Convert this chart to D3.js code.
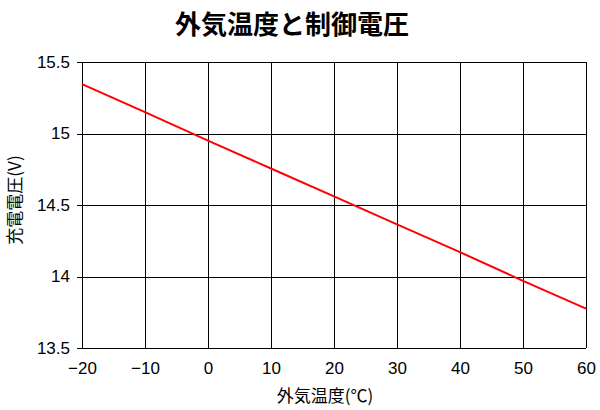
<!DOCTYPE html>
<html><head><meta charset="utf-8">
<script src="https://cdn.jsdelivr.net/npm/d3@7"></script>
<style>body{margin:0;background:#fff}svg{display:block}</style>
</head><body>
<script>
const temps = [-20, -10, 0, 10, 20, 30, 40, 50, 60];
const volts = [15.345, 15.15, 14.95, 14.755, 14.56, 14.365, 14.17, 13.97, 13.775];
const xTicks = [-20, -10, 0, 10, 20, 30, 40, 50, 60];
const yTicks = [13.5, 14, 14.5, 15, 15.5];
const title = "外気温度と制御電圧";
const xTitle = "外気温度(℃)";
const yTitle = "充電電圧(V)";

const W = 600, H = 410;
const m = {l: 82, r: 14, t: 62, b: 62};
const svg = d3.select("body").append("svg").attr("width", W).attr("height", H);
const x = d3.scaleLinear().domain([-20, 60]).range([m.l, W - m.r]);
const y = d3.scaleLinear().domain([13.5, 15.5]).range([H - m.b, m.t]);
const numFont = "'Liberation Sans', Arial, sans-serif";
const jpFont = "'Noto Sans CJK JP', sans-serif";

// grid
const g = svg.append("g");
g.selectAll("line.v").data(xTicks).join("line")
  .attr("x1", d => Math.round(x(d)) + 0.5).attr("x2", d => Math.round(x(d)) + 0.5)
  .attr("y1", y(15.5)).attr("y2", y(13.5)).attr("stroke", "#000");
g.selectAll("line.h").data(yTicks).join("line")
  .attr("x1", x(-20) - 5).attr("x2", x(60))
  .attr("y1", d => Math.round(y(d)) + 0.5).attr("y2", d => Math.round(y(d)) + 0.5).attr("stroke", "#000");

// axes labels via d3 axes (no domain/ticks)
const xa = svg.append("g").attr("transform", `translate(0,${y(13.5)})`)
  .call(d3.axisBottom(x).tickValues(xTicks).tickSize(0).tickPadding(14).tickFormat(d => d < 0 ? "\u2212" + Math.abs(d) : d));
xa.select(".domain").remove();
xa.selectAll("text").attr("font-family", numFont).attr("font-size", 17).attr("fill", "#000");

const ya = svg.append("g").attr("transform", `translate(${x(-20)},0)`)
  .call(d3.axisLeft(y).tickValues(yTicks).tickSize(0).tickPadding(12).tickFormat(d => d));
ya.select(".domain").remove();
ya.selectAll("text").attr("font-family", numFont).attr("font-size", 17).attr("fill", "#000");

// line
svg.append("path").datum(temps.map((t, i) => [t, volts[i]]))
  .attr("fill", "none").attr("stroke", "#ff0000").attr("stroke-width", 2)
  .attr("d", d3.line().x(d => x(d[0])).y(d => y(d[1])));

// titles
svg.append("text").attr("x", 292).attr("y", 34).attr("text-anchor", "middle")
  .attr("font-family", jpFont).attr("font-weight", "bold").attr("font-size", 26).text(title);
svg.append("text").attr("x", 325).attr("y", 402).attr("text-anchor", "middle")
  .attr("font-family", jpFont).attr("font-size", 17).text(xTitle);
svg.append("text").attr("transform", "translate(21,200) rotate(-90)").attr("text-anchor", "middle")
  .attr("font-family", jpFont).attr("font-size", 17).text(yTitle);
</script>
</body></html>
